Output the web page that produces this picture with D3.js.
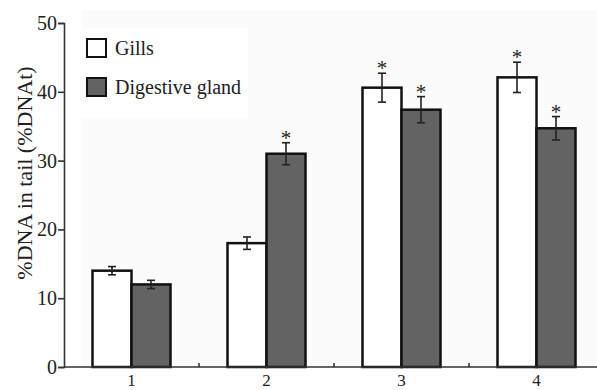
<!doctype html>
<html>
  <head>
    <meta charset="utf-8">
    <title>%DNA in tail</title>
    <script src="https://d3js.org/d3.v7.min.js"></script>
    <style type="text/css">
      body { margin: 0; background-color: #ffffff; }
      text { font-family: "Liberation Serif", "DejaVu Serif", serif; fill: #222; }
    </style>
  </head>
  <body>
    <script>
      // data
      var groups = ["1", "2", "3", "4"];
      var seriesNames = ["Gills", "Digestive gland"];
      var gills = [14.0, 18.0, 40.6, 42.1];
      var gillsErr = [0.6, 0.9, 2.1, 2.2];
      var digestive = [12.0, 31.0, 37.4, 34.7];
      var digestiveErr = [0.6, 1.6, 1.9, 1.7];
      var gillsStar = [false, false, true, true];
      var digestiveStar = [false, true, true, true];
      var yTicks = [0, 10, 20, 30, 40, 50];

      var w = 597, h = 390;
      var mLeft = 64, mTop = 23, mBottom = 367, mRight = 604;

      var svg = d3.select("body").append("svg")
        .attr("width", w).attr("height", h);

      // faint plot background
      svg.append("rect").attr("x", 82).attr("y", 10)
        .attr("width", w - 82).attr("height", mBottom - 10)
        .attr("fill", "#fbfbfb");

      var x = d3.scaleBand().domain(groups).range([mLeft, mRight]);
      var inner = d3.scaleBand().domain(seriesNames)
        .range([0, 78]);
      var y = d3.scaleLinear().domain([0, 50]).range([mBottom, mTop]);

      var rows = groups.map(function(g, i) {
        return [
          {g: g, s: seriesNames[0], v: gills[i], e: gillsErr[i], star: gillsStar[i], fill: "#ffffff"},
          {g: g, s: seriesNames[1], v: digestive[i], e: digestiveErr[i], star: digestiveStar[i], fill: "#636363"}
        ];
      });
      var flat = [].concat.apply([], rows);
      var off = (x.bandwidth() - 78) / 2;

      function bx(d) { return x(d.g) + off + inner(d.s); }
      function cx(d) { return bx(d) + inner.bandwidth() / 2; }

      // legend backdrop
      svg.append("rect").attr("x", 78).attr("y", 28).attr("width", 170).attr("height", 90)
        .attr("fill", "#ffffff");

      var bars = svg.append("g");
      bars.selectAll("rect").data(flat).enter().append("rect")
        .attr("x", bx)
        .attr("y", function(d) { return y(d.v); })
        .attr("width", inner.bandwidth())
        .attr("height", function(d) { return y(0) - y(d.v); })
        .attr("fill", function(d) { return d.fill; })
        .attr("stroke", "#111")
        .attr("stroke-width", 2.5);

      // error bars
      var err = svg.append("g").attr("stroke", "#222").attr("stroke-width", 1.6);
      flat.forEach(function(d) {
        var c = cx(d);
        err.append("line").attr("x1", c).attr("x2", c)
          .attr("y1", y(d.v + d.e)).attr("y2", y(d.v - d.e));
        err.append("line").attr("x1", c - 4).attr("x2", c + 4)
          .attr("y1", y(d.v + d.e)).attr("y2", y(d.v + d.e));
        err.append("line").attr("x1", c - 4).attr("x2", c + 4)
          .attr("y1", y(d.v - d.e)).attr("y2", y(d.v - d.e));
      });

      // significance stars
      svg.append("g").selectAll("text")
        .data(flat.filter(function(d) { return d.star; }))
        .enter().append("text")
        .attr("x", cx)
        .attr("y", function(d) { return y(d.v + d.e) + 2; })
        .attr("text-anchor", "middle")
        .attr("font-size", 21)
        .text("*");

      // y axis
      var yAxis = svg.append("g")
        .attr("transform", "translate(" + mLeft + ",0)")
        .call(d3.axisLeft(y).tickValues(yTicks).tickSize(6).tickPadding(1));
      yAxis.select(".domain").attr("stroke", "#333").attr("stroke-width", 1.6);
      yAxis.selectAll(".tick line").attr("stroke", "#333").attr("stroke-width", 1.6);
      yAxis.selectAll("text").attr("font-size", 20).attr("font-family", "Liberation Serif").attr("fill", "#222");

      // x axis line with small inside ticks between groups
      var xAxis = svg.append("g").attr("stroke", "#333");
      xAxis.append("line").attr("x1", mLeft).attr("x2", w)
        .attr("y1", mBottom).attr("y2", mBottom).attr("stroke-width", 1.6);
      groups.slice(1).forEach(function(g) {
        xAxis.append("line").attr("x1", x(g)).attr("x2", x(g))
          .attr("y1", mBottom).attr("y2", mBottom - 4).attr("stroke-width", 1.6);
      });
      svg.append("g").selectAll("text").data(groups).enter().append("text")
        .attr("x", function(g) { return x(g) + x.bandwidth() / 2; })
        .attr("y", 386)
        .attr("text-anchor", "middle")
        .attr("font-size", 17)
        .text(function(g) { return g; });

      // y title
      svg.append("text")
        .attr("transform", "translate(32,173) rotate(-90)")
        .attr("text-anchor", "middle")
        .attr("font-size", 22)
        .text("%DNA in tail (%DNAt)");

      // legend
      var legend = svg.append("g");
      seriesNames.forEach(function(s, i) {
        legend.append("rect").attr("x", 87).attr("y", 39 + i * 39)
          .attr("width", 19).attr("height", 18)
          .attr("fill", i === 0 ? "#ffffff" : "#636363")
          .attr("stroke", "#111").attr("stroke-width", 2);
        legend.append("text").attr("x", 115).attr("y", 55 + i * 39)
          .attr("font-size", 20).text(s);
      });
    </script>
  </body>
</html>
